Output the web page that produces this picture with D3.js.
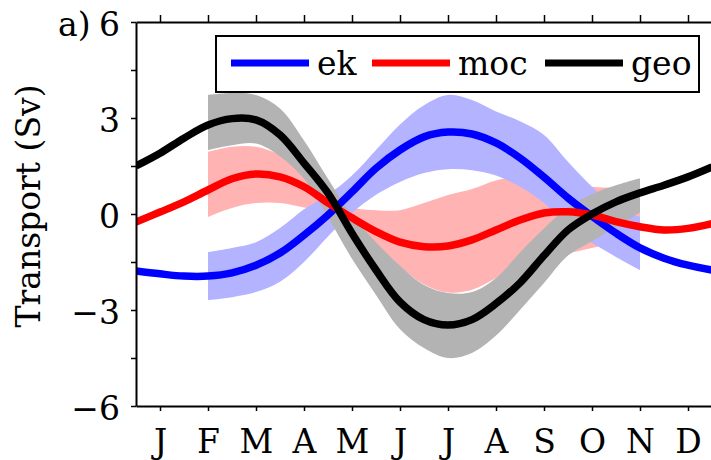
<!DOCTYPE html>
<html>
<head>
<meta charset="utf-8">
<script src="https://cdn.jsdelivr.net/npm/d3@7"></script>
<style>
  html, body { margin: 0; padding: 0; background: #fff; }
  svg { display: block; }
  text { font-family: "DejaVu Serif", serif; fill: #000; }
</style>
</head>
<body>
<svg id="chart" width="711" height="460"></svg>
<script>
// ---- data ----
const months = ["J","F","M","A","M","J","J","A","S","O","N","D"];
const monthPos = [1,2,3,4,5,6,7,8,9,10,11,12];
const yTicks = [-6,-4.5,-3,-1.5,0,1.5,3,4.5,6];
const yLabels = [-6,-3,0,3,6];

// mean curves, sampled every half month (0.5 .. 12.5)
const tPos = [0.5,1,1.5,2,2.5,3,3.5,4,4.5,5,5.5,6,6.5,7,7.5,8,8.5,9,9.5,10,10.5,11,11.5,12,12.5];
const ek  = [-1.78,-1.87,-1.94,-1.94,-1.84,-1.6,-1.22,-0.66,-0.03,0.69,1.43,2.0,2.41,2.56,2.5,2.22,1.75,1.15,0.5,-0.07,-0.6,-1.06,-1.38,-1.6,-1.75];
const moc = [-0.25,0.06,0.38,0.75,1.1,1.25,1.16,0.85,0.35,-0.12,-0.55,-0.88,-1.02,-1.0,-0.81,-0.5,-0.19,0.03,0.07,-0.03,-0.24,-0.4,-0.5,-0.45,-0.3];
const geo = [1.5,1.9,2.37,2.78,2.98,2.94,2.47,1.59,0.65,-0.6,-1.75,-2.75,-3.3,-3.47,-3.3,-2.8,-2.15,-1.3,-0.5,0.0,0.38,0.66,0.9,1.16,1.47];

// spread bands, Feb .. Nov, every half month
const bandPos = [2,2.5,3,3.5,4,4.5,5,5.5,6,6.5,7,7.5,8,8.5,9,9.5,10,10.5,11];
const ekLo  = [-2.69,-2.6,-2.44,-2.12,-1.5,-0.7,0.03,0.6,1.0,1.28,1.4,1.37,1.2,0.85,0.34,-0.4,-0.9,-1.34,-1.75];
const ekHi  = [-1.19,-1.06,-0.88,-0.44,0.15,0.6,1.2,2.0,2.8,3.4,3.72,3.56,3.2,2.9,2.47,1.63,0.85,0.22,-0.09];
const mocLo = [-0.09,0.19,0.34,0.34,0.2,0.05,-0.44,-1.06,-1.66,-2.2,-2.45,-2.37,-2.0,-1.6,-1.3,-1.22,-1.06,-0.9,-0.72];
const mocHi = [1.94,2.1,2.1,1.85,1.4,0.75,0.22,0.12,0.12,0.34,0.59,0.78,1.05,1.15,1.05,0.95,0.85,0.8,0.69];
const geoLo = [2.0,2.15,2.2,1.8,1.1,-0.1,-1.4,-2.53,-3.6,-4.19,-4.5,-4.34,-3.8,-3.0,-2.16,-1.3,-0.85,-0.4,0.05];
const geoHi = [3.72,3.78,3.72,3.3,2.3,1.1,-0.05,-0.88,-1.62,-2.22,-2.47,-2.44,-2.0,-1.2,-0.45,0.2,0.62,0.9,1.12];

const seriesNames = ["ek","moc","geo"];
const seriesColors = ["#0000ff","#ff0000","#000000"];
const bandColors = ["#b3b3ff","#ffb3b3","#b3b3b3"];

// ---- layout ----
const svg = d3.select("#chart");
const L = 136, R = 712, T = 22, B = 406;
const x = d3.scaleLinear().domain([0.5, 12.5]).range([L, R]);
const y = d3.scaleLinear().domain([-6, 6]).range([B, T]);

svg.append("defs").append("clipPath").attr("id","clip")
  .append("rect").attr("x",L).attr("y",T).attr("width",R-L).attr("height",B-T);

const plot = svg.append("g").attr("clip-path","url(#clip)");

const curve = d3.curveCatmullRom.alpha(0.5);
const area = d3.area().x(d => x(d[0])).y0(d => y(d[1])).y1(d => y(d[2])).curve(curve);
const line = d3.line().x(d => x(d[0])).y(d => y(d[1])).curve(curve);

const bands = [
  {lo: mocLo, hi: mocHi, c: bandColors[1]},
  {lo: ekLo,  hi: ekHi,  c: bandColors[0]},
  {lo: geoLo, hi: geoHi, c: bandColors[2]}
];
bands.forEach(b => {
  plot.append("path")
    .datum(bandPos.map((p,i) => [p, b.lo[i], b.hi[i]]))
    .attr("d", area).attr("fill", b.c).attr("stroke","none");
});

[ek, moc, geo].forEach((s, k) => {
  plot.append("path")
    .datum(tPos.map((p,i) => [p, s[i]]))
    .attr("d", line).attr("fill","none")
    .attr("stroke", seriesColors[k]).attr("stroke-width", 7.5);
});

// ---- axes ----
const fontSize = 33;
const gx = svg.append("g").attr("transform", `translate(0,${B})`)
  .call(d3.axisBottom(x).tickValues(monthPos).tickFormat((d,i) => months[i]).tickSize(5).tickSizeOuter(0));
gx.selectAll("text").attr("dy", 0).attr("y", 47).style("font-size", fontSize+"px").style("font-family","DejaVu Serif");

const gt = svg.append("g").attr("transform", `translate(0,${T})`)
  .call(d3.axisTop(x).tickValues(monthPos).tickFormat("").tickSize(7).tickSizeOuter(0));

const gy = svg.append("g").attr("transform", `translate(${L},0)`)
  .call(d3.axisLeft(y).tickValues(yTicks)
        .tickFormat(d => yLabels.includes(d) ? d3.format("d")(d) : "")
        .tickSize(5).tickSizeOuter(0));
gy.selectAll("text").attr("dy", 0).attr("y", 13).attr("x", -16)
  .style("font-size", fontSize+"px").style("font-family","DejaVu Serif");

[gx, gt, gy].forEach(g => {
  g.select(".domain").attr("stroke","#000").attr("stroke-width",2);
  g.selectAll(".tick line").attr("stroke","#000").attr("stroke-width",1.5);
});

// axis label and panel tag
svg.append("text")
  .attr("transform", "translate(40,206) rotate(-90)")
  .attr("text-anchor","middle")
  .style("font-size", fontSize+"px")
  .text("Transport (Sv)");

svg.append("text").attr("x", 58).attr("y", 36)
  .style("font-size", fontSize+"px").text("a)");

// ---- legend ----
const lg = svg.append("g");
lg.append("rect").attr("x",216).attr("y",36).attr("width",483).attr("height",56)
  .attr("fill","#fff").attr("stroke","#000").attr("stroke-width",2);
const legX = [231, 372, 545];
seriesNames.forEach((n, k) => {
  lg.append("line").attr("x1", legX[k]).attr("x2", legX[k] + 78)
    .attr("y1", 63).attr("y2", 63)
    .attr("stroke", seriesColors[k]).attr("stroke-width", 7);
  lg.append("text").attr("x", legX[k] + 86).attr("y", 75)
    .style("font-size", fontSize+"px").text(n);
});
</script>
</body>
</html>
